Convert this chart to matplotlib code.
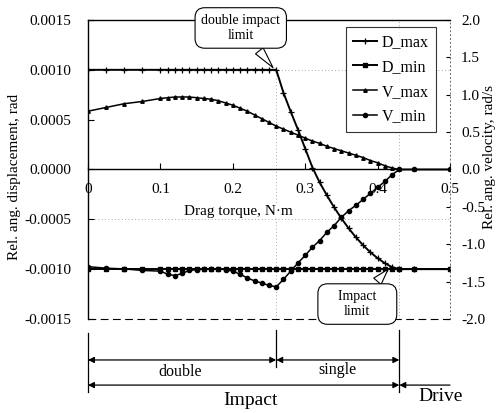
import matplotlib
matplotlib.use('Agg')
import matplotlib.pyplot as plt
from matplotlib.transforms import blended_transform_factory

plt.rcParams['font.family'] = ['Liberation Serif', 'DejaVu Serif']

# Drag torque, N·m
torque = [0.00, 0.025, 0.05, 0.075,
          0.10, 0.11, 0.12, 0.13, 0.14, 0.15, 0.16, 0.17, 0.18, 0.19,
          0.20, 0.21, 0.22, 0.23, 0.24, 0.25, 0.26, 0.27, 0.28, 0.29,
          0.30, 0.31, 0.32, 0.33, 0.34, 0.35, 0.36, 0.37, 0.38, 0.39,
          0.40, 0.41, 0.42, 0.43, 0.45, 0.50]

# Relative angular displacement, rad
d_max = [0.00100, 0.00100, 0.00100, 0.00100,
         0.00100, 0.00100, 0.00100, 0.00100, 0.00100, 0.00100, 0.00100, 0.00100, 0.00100, 0.00100,
         0.00100, 0.00100, 0.00100, 0.00100, 0.00100, 0.00100, 0.00100, 0.00077, 0.00058, 0.00040,
         0.00021, 0.00002, -0.00013, -0.00026, -0.00038, -0.00049, -0.00059, -0.00068, -0.00076, -0.00083,
         -0.00089, -0.00094, -0.00098, -0.00100, -0.00100, -0.00100]
d_min = [-0.00100, -0.00100, -0.00100, -0.00100,
         -0.00100, -0.00100, -0.00100, -0.00100, -0.00100, -0.00100, -0.00100, -0.00100, -0.00100, -0.00100,
         -0.00100, -0.00100, -0.00100, -0.00100, -0.00100, -0.00100, -0.00100, -0.00100, -0.00100, -0.00100,
         -0.00100, -0.00100, -0.00100, -0.00100, -0.00100, -0.00100, -0.00100, -0.00100, -0.00100, -0.00100,
         -0.00100, -0.00100, -0.00100, -0.00100, -0.00100, -0.00100]

# Relative angular velocity, rad/s
v_max = [0.78, 0.83, 0.88, 0.91,
         0.95, 0.96, 0.97, 0.97, 0.97, 0.96, 0.95, 0.94, 0.92, 0.89,
         0.86, 0.82, 0.78, 0.73, 0.68, 0.63, 0.58, 0.54, 0.50, 0.46,
         0.42, 0.38, 0.35, 0.31, 0.28, 0.25, 0.22, 0.19, 0.16, 0.12,
         0.09, 0.05, 0.02, 0.00, 0.00, 0.00]
v_min = [-1.30, -1.32, -1.33, -1.35,
         -1.36, -1.40, -1.42, -1.39, -1.35, -1.34, -1.33, -1.33, -1.33, -1.34,
         -1.36, -1.40, -1.45, -1.49, -1.52, -1.55, -1.57, -1.47, -1.36, -1.25,
         -1.15, -1.04, -0.95, -0.84, -0.75, -0.64, -0.55, -0.48, -0.40, -0.32,
         -0.24, -0.16, -0.07, 0.00, 0.00, 0.00]

x_ticks = [0, 0.1, 0.2, 0.3, 0.4, 0.5]
x_tick_labels = ['0', '0.1', '0.2', '0.3', '0.4', '0.5']
disp_ticks = [0.0015, 0.0010, 0.0005, 0.0, -0.0005, -0.0010, -0.0015]
disp_tick_labels = ['0.0015', '0.0010', '0.0005', '0.0000', '-0.0005', '-0.0010', '-0.0015']
vel_ticks = [2.0, 1.5, 1.0, 0.5, 0.0, -0.5, -1.0, -1.5, -2.0]
vel_tick_labels = ['2.0', '1.5', '1.0', '0.5', '0.0', '-0.5', '-1.0', '-1.5', '-2.0']

double_limit = 0.26   # end of the double-impact regime
impact_limit = 0.43   # end of the impact regime

fig = plt.figure(figsize=(5.02, 4.13), dpi=100)
ax = fig.add_axes([0.1753, 0.2276, 0.7211, 0.7240])
ax2 = ax.twinx()

ax.set_xlim(0, 0.5)
ax.set_ylim(-0.0015, 0.0015)
ax2.set_ylim(-2.0, 2.0)

# frame
ax.spines['bottom'].set_position(('data', 0))
ax.spines['right'].set_visible(False)
for s in ('left', 'top', 'bottom'):
    ax.spines[s].set_linewidth(1.0)
for s in ('left', 'top', 'bottom'):
    ax2.spines[s].set_visible(False)
ax2.spines['right'].set_linestyle((0, (1, 3)))
ax2.spines['right'].set_linewidth(0.7)
ax2.spines['right'].set_color('0.4')
ax.plot([0, 0.5], [-0.0015, -0.0015], color='black', lw=0.8,
        ls=(0, (7, 4)), clip_on=False)

# light dotted guides
for yv in (0.0010, -0.0005):
    ax.plot([0, 0.5], [yv, yv], color='0.55', lw=0.6, ls=(0, (1, 3)), zorder=1)
ax.plot([double_limit, double_limit], [-0.0015, 0.0010], color='0.55', lw=0.6,
        ls=(0, (1, 3)), zorder=1)
ax.plot([impact_limit, impact_limit], [-0.0015, 0.0015], color='0.55', lw=0.6,
        ls=(0, (1, 3)), zorder=1)

ax.set_xticks(x_ticks)
ax.set_xticklabels(x_tick_labels)
ax.set_yticks(disp_ticks)
ax.set_yticklabels(disp_tick_labels)
ax2.set_yticks(vel_ticks)
ax2.set_yticklabels(vel_tick_labels)
ax.tick_params(axis='x', direction='in', length=4, width=0.8, labelsize=11, pad=10)
ax.tick_params(axis='y', direction='in', length=4, width=0.8, labelsize=11, pad=12)
ax2.tick_params(axis='y', direction='in', length=3, width=0.8, labelsize=11, pad=8)

h1, = ax.plot(torque, d_max, color='black', lw=1.4, marker='+', ms=4, mew=0.9,
              label='D_max', zorder=4)
h2, = ax.plot(torque, d_min, color='black', lw=1.4, marker='s', ms=3.5,
              label='D_min', zorder=4)
h3, = ax2.plot(torque, v_max, color='black', lw=1.1, marker='^', ms=2.5,
               label='V_max', zorder=4)
h4, = ax2.plot(torque, v_min, color='black', lw=1.1, marker='o', ms=3,
               label='V_min', zorder=4)

leg = ax2.legend(handles=[h1, h2, h3, h4], loc='upper left',
                 bbox_to_anchor=(346 / 502, 1 - 27 / 413),
                 bbox_transform=fig.transFigure, fontsize=11.5, frameon=True,
                 fancybox=False, handlelength=1.5, handletextpad=0.3,
                 labelspacing=0.55, borderpad=0.45, borderaxespad=0)
leg.get_frame().set_edgecolor('black')
leg.get_frame().set_linewidth(0.8)

ax.text(0.208, -0.00042, 'Drag torque, N\u00b7m', fontsize=11, ha='center',
        va='center', zorder=5,
        bbox=dict(boxstyle='square,pad=0.05', fc='white', ec='none'))

fig.text(15 / 502, 1 - 177 / 413, 'Rel. ang. displacement, rad', rotation=90,
         ha='center', va='center', fontsize=11)
fig.text(490 / 502, 1 - 157 / 413, 'Rel. ang. velocity, rad/s', rotation=90,
         ha='center', va='center', fontsize=11)

# callouts
ax.annotate('double impact\nlimit', xy=(double_limit - 0.002, 0.0010),
            xytext=(0.211, 0.00142), fontsize=10, ha='center', va='center',
            annotation_clip=False, zorder=6,
            bbox=dict(boxstyle='round,pad=0.45,rounding_size=0.7', fc='white',
                      ec='black', lw=0.8),
            arrowprops=dict(arrowstyle='wedge,tail_width=0.7,shrink_factor=0.5',
                            fc='white', ec='black', lw=0.8))
ax.annotate('    Impact    \nlimit', xy=(0.417, -0.00098),
            xytext=(0.372, -0.00135), fontsize=10, ha='center', va='center',
            annotation_clip=False, zorder=6,
            bbox=dict(boxstyle='round,pad=0.45,rounding_size=0.7', fc='white',
                      ec='black', lw=0.8),
            arrowprops=dict(arrowstyle='wedge,tail_width=0.7,shrink_factor=0.5',
                            fc='white', ec='black', lw=0.8))

# regime brackets below the axes
tr = blended_transform_factory(ax.transData, ax.transAxes)
row1, row2 = -0.137, -0.221
for xv, y0, y1 in ((0.0, -0.047, -0.245), (double_limit, -0.037, -0.160),
                   (impact_limit, -0.037, -0.245)):
    ax.plot([xv, xv], [y0, y1], transform=tr, color='black', lw=0.9, clip_on=False)

def span(x0, x1, y, style):
    ax.annotate('', xy=(x1, y), xytext=(x0, y), xycoords=tr, textcoords=tr,
                annotation_clip=False,
                arrowprops=dict(arrowstyle=style, color='black', lw=0.9,
                                mutation_scale=9, shrinkA=0, shrinkB=0))

span(0.0, double_limit, row1, '<|-|>')
span(double_limit, impact_limit, row1, '<|-|>')
span(0.0, impact_limit, row2, '<|-|>')
span(0.5, impact_limit, row2, '-|>')

ax.text(0.127, -0.177, 'double', transform=tr, fontsize=11.5, ha='center', va='center')
ax.text(0.344, -0.170, 'single', transform=tr, fontsize=11.5, ha='center', va='center')
ax.text(0.225, -0.272, 'Impact', transform=tr, fontsize=14, ha='center', va='center')
ax.text(0.4875, -0.259, 'Drive', transform=tr, fontsize=14, ha='center', va='center')

fig.savefig('out.png', dpi=100)
